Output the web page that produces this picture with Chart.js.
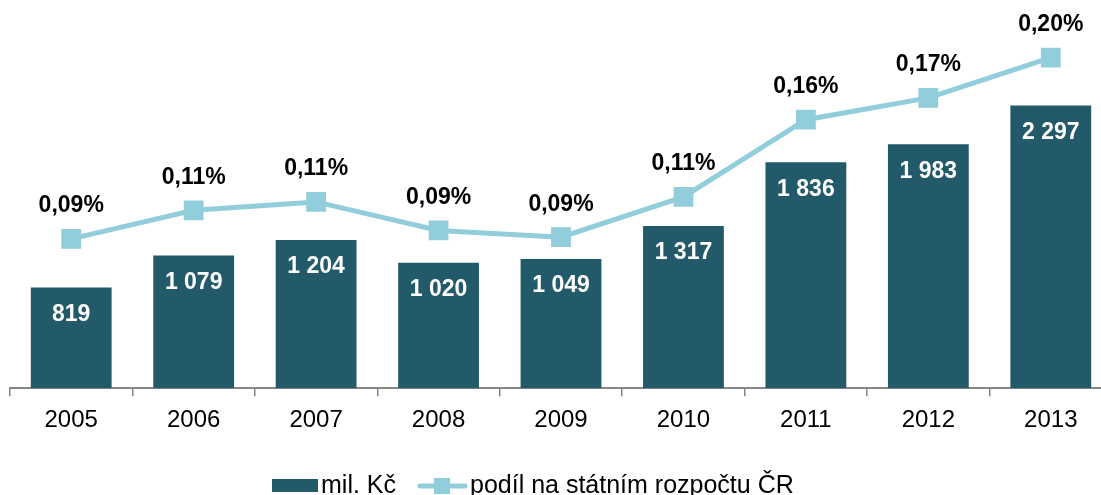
<!DOCTYPE html>
<html>
<head>
<meta charset="utf-8">
<script src="https://cdn.jsdelivr.net/npm/chart.js@4"></script>
<style>
    html, body { margin: 0; padding: 0; background: #fff; overflow: hidden; }
    #wrap { width: 1120px; height: 495px; }
</style>
</head>
<body>
<div id="wrap"><canvas id="chart" width="1120" height="495"></canvas></div>
<script>
// Data
const years = ['2005', '2006', '2007', '2008', '2009', '2010', '2011', '2012', '2013'];
const milKc = [819, 1079, 1204, 1020, 1049, 1317, 1836, 1983, 2297];
const podil = [0.089, 0.106, 0.111, 0.094, 0.090, 0.114, 0.160, 0.173, 0.197];

const barLabel = 'mil. Kč';
const lineLabel = 'podíl na státním rozpočtu ČR';

const barColor = '#235A69';
const lineColor = '#92CDDC';
const fontFamily = '"Liberation Sans", Arial, sans-serif';

function thousands(v) {
    return String(v).replace(/\B(?=(\d{3})+(?!\d))/g, ' ');
}

function percent(v) {
    return v.toFixed(2).replace('.', ',') + '%';
}

// Values above points / inside bars
const valueLabels = {
    id: 'valueLabels',
    afterDatasetsDraw(chart) {
        const ctx = chart.ctx;
        ctx.save();
        ctx.font = 'bold 23px ' + fontFamily;
        ctx.textAlign = 'center';
        ctx.textBaseline = 'middle';

        chart.getDatasetMeta(0).data.forEach((bar, i) => {
            ctx.fillStyle = '#ffffff';
            ctx.fillText(thousands(milKc[i]), bar.x, bar.y + 27);
        });

        chart.getDatasetMeta(1).data.forEach((pt, i) => {
            ctx.fillStyle = '#000000';
            ctx.fillText(percent(podil[i]), pt.x, pt.y - 33);
        });
        ctx.restore();
    }
};

// Legend at the bottom, drawn by hand so the line entry keeps its marker
const bottomLegend = {
    id: 'bottomLegend',
    afterDraw(chart) {
        const ctx = chart.ctx;
        const cy = 486;
        ctx.save();
        ctx.font = '25px ' + fontFamily;
        ctx.textBaseline = 'middle';
        ctx.textAlign = 'left';

        ctx.fillStyle = barColor;
        ctx.fillRect(272, cy - 7, 46, 13);
        ctx.fillStyle = '#000';
        ctx.fillText(barLabel, 321, cy);

        ctx.strokeStyle = lineColor;
        ctx.lineWidth = 5;
        ctx.lineCap = 'round';
        ctx.beginPath();
        ctx.moveTo(420, cy);
        ctx.lineTo(465, cy);
        ctx.stroke();
        ctx.fillStyle = lineColor;
        ctx.fillRect(434, cy - 8, 16, 16);
        ctx.fillStyle = '#000';
        ctx.fillText(lineLabel, 470, cy);
        ctx.restore();
    }
};

new Chart(document.getElementById('chart'), {
    type: 'bar',
    data: {
        labels: years,
        datasets: [
            {
                type: 'bar',
                label: barLabel,
                data: milKc,
                backgroundColor: barColor,
                categoryPercentage: 1,
                barPercentage: 0.66,
                yAxisID: 'y',
                order: 1
            },
            {
                type: 'line',
                label: lineLabel,
                data: podil,
                borderColor: lineColor,
                borderWidth: 5,
                pointStyle: 'rect',
                pointRadius: 14,
                pointBorderWidth: 0,
                pointBackgroundColor: lineColor,
                tension: 0,
                yAxisID: 'y2',
                order: 0
            }
        ]
    },
    options: {
        responsive: false,
        animation: false,
        layout: {
            autoPadding: false,
            padding: { left: 10, right: 8, top: 19, bottom: 50 }
        },
        plugins: {
            legend: { display: false },
            tooltip: { enabled: false }
        },
        scales: {
            x: {
                offset: true,
                grid: {
                    offset: true,
                    drawOnChartArea: false,
                    drawTicks: true,
                    tickLength: 8,
                    color: '#868686',
                    lineWidth: 1.5
                },
                border: { color: '#868686', width: 2 },
                ticks: {
                    color: '#000',
                    font: { family: fontFamily, size: 24 },
                    padding: 10
                }
            },
            y: {
                display: false,
                min: 0,
                max: 3000
            },
            y2: {
                display: false,
                position: 'right',
                min: 0,
                max: 0.22
            }
        }
    },
    plugins: [valueLabels, bottomLegend]
});
</script>
</body>
</html>
